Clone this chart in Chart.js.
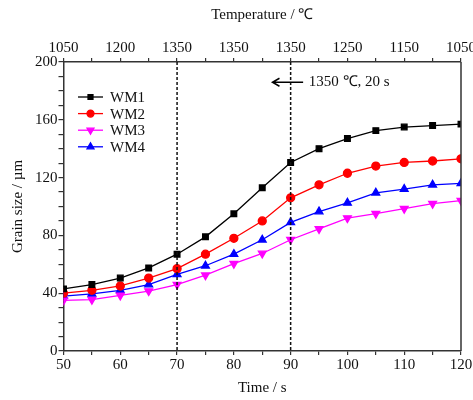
<!DOCTYPE html>
<html>
<head>
<meta charset="utf-8">
<script src="https://cdn.jsdelivr.net/npm/chart.js@4"></script>
<style>
  html, body { margin: 0; padding: 0; background: #fff; }
  #wrap { width: 473px; height: 400px; }
</style>
</head>
<body>
<div id="wrap"><canvas id="chartCanvas" width="473" height="400"></canvas></div>
<script>
const times = [50, 55, 60, 65, 70, 75, 80, 85, 90, 95, 100, 105, 110, 115, 120];
const wm1 = [43, 46, 50.5, 57.5, 67, 79, 95, 113, 130.5, 140, 147, 152.5, 155, 156, 157];
const wm2 = [40, 42, 45, 50.5, 57, 67, 78, 90, 106, 115, 123, 128, 130.5, 131.5, 133];
const wm3 = [35, 35.5, 38.5, 41.5, 46, 52.5, 60.5, 67.5, 77, 84.5, 92, 95, 98.5, 102, 104];
const wm4 = [38, 39.5, 42, 46, 53, 59, 67, 77, 89, 96.5, 102.5, 109.5, 112, 115, 116];
const tempTimes = [50, 60, 70, 80, 90, 100, 110, 120];
const tempLabels = ["1050", "1200", "1350", "1350", "1350", "1250", "1150", "1050"];
const markTimes = [70, 90];
const noteText = "1350 \u2103, 20 s";

const serif = "'Liberation Serif', 'Times New Roman', serif";
const axisColor = "#333";

function pts(arr) {
  return arr.map((v, i) => ({ x: times[i], y: v }));
}

// dashed markers, arrow note, legend and right frame line
const extras = {
  id: "extras",
  afterDatasetsDraw(chart) {
    const ctx = chart.ctx;
    const area = chart.chartArea;
    const x = chart.scales.x;
    const y = chart.scales.y;
    ctx.save();

    ctx.strokeStyle = "#111";
    ctx.lineWidth = 1.5;
    ctx.setLineDash([3, 2]);
    markTimes.forEach(t => {
      const px = x.getPixelForValue(t);
      ctx.beginPath();
      ctx.moveTo(px, area.top);
      ctx.lineTo(px, area.bottom);
      ctx.stroke();
    });
    ctx.setLineDash([]);

    ctx.strokeStyle = axisColor;
    ctx.beginPath();
    ctx.moveTo(area.right, area.top);
    ctx.lineTo(area.right, area.bottom);
    ctx.stroke();

    // arrow + note
    const ay = y.getPixelForValue(186);
    const ax1 = x.getPixelForValue(86.8);
    const ax2 = x.getPixelForValue(92.2);
    ctx.strokeStyle = "#000";
    ctx.lineWidth = 1.5;
    ctx.beginPath();
    ctx.moveTo(ax2, ay);
    ctx.lineTo(ax1, ay);
    ctx.moveTo(ax1 + 7, ay - 4);
    ctx.lineTo(ax1, ay);
    ctx.lineTo(ax1 + 7, ay + 4);
    ctx.stroke();
    ctx.fillStyle = "#111";
    ctx.font = "15px " + serif;
    ctx.textAlign = "left";
    ctx.textBaseline = "middle";
    ctx.fillText(noteText, x.getPixelForValue(93.2), ay);

    // legend
    chart.data.datasets.forEach((ds, i) => {
      const ly = 97 + i * 16.6;
      const lx1 = 78, lx2 = 103;
      ctx.strokeStyle = ds.borderColor;
      ctx.lineWidth = 1.3;
      ctx.beginPath();
      ctx.moveTo(lx1, ly);
      ctx.lineTo(lx2, ly);
      ctx.stroke();
      ctx.fillStyle = ds.pointBackgroundColor;
      ctx.strokeStyle = ds.pointBackgroundColor;
      Chart.helpers.drawPoint(ctx, {
        pointStyle: ds.pointStyle,
        radius: ds.pointRadius - 0.5,
        rotation: ds.pointRotation || 0,
        borderWidth: 1
      }, (lx1 + lx2) / 2, ly);
      ctx.fillStyle = "#111";
      ctx.font = "15px " + serif;
      ctx.textAlign = "left";
      ctx.textBaseline = "middle";
      ctx.fillText(ds.label, 110, ly + 1);
    });
    ctx.restore();
  }
};

function series(label, data, color, style, rot) {
  return {
    label,
    data: pts(data),
    borderColor: color,
    backgroundColor: color,
    pointBackgroundColor: color,
    pointBorderColor: color,
    pointStyle: style,
    pointRotation: rot || 0,
    pointRadius: style === "rect" ? 4 : (style === "circle" ? 4 : 4.5),
    borderWidth: 1.3,
    tension: 0
  };
}

const tickFont = { family: serif, size: 15 };

// let the end labels hang past the plot like in the original figure
function noSidePad(s) {
  s.paddingLeft = 0;
  s.paddingRight = 0;
}

new Chart(document.getElementById("chartCanvas"), {
  type: "line",
  data: {
    datasets: [
      series("WM1", wm1, "#000000", "rect"),
      series("WM2", wm2, "#ff0000", "circle"),
      series("WM3", wm3, "#ff00ff", "triangle", 180),
      series("WM4", wm4, "#0000ff", "triangle")
    ]
  },
  options: {
    responsive: false,
    animation: false,
    layout: { padding: { right: 12, left: 0, top: 0, bottom: 0 } },
    plugins: { legend: { display: false }, tooltip: { enabled: false } },
    scales: {
      x: {
        type: "linear",
        position: "bottom",
        min: 50, max: 120,
        afterFit: s => { s.height = 49; noSidePad(s); },
        border: { color: axisColor, width: 1.5 },
        grid: { drawOnChartArea: false, tickLength: 4, color: axisColor, lineWidth: 1.2 },
        ticks: {
          stepSize: 5, autoSkip: false, maxRotation: 0, color: "#111", font: tickFont, padding: 1,
          callback: v => (v % 10 === 0 ? v : "")
        },
        title: { display: true, text: "Time / s", color: "#111", font: tickFont, padding: { top: 2, bottom: 3 } }
      },
      x2: {
        type: "linear",
        position: "top",
        min: 50, max: 120,
        afterFit: s => { s.height = 62; noSidePad(s); },
        afterBuildTicks: s => { s.ticks = times.map(v => ({ value: v })); },
        border: { color: axisColor, width: 1.5 },
        grid: { drawOnChartArea: false, tickLength: 4, color: axisColor, lineWidth: 1.2 },
        ticks: {
          autoSkip: false, maxRotation: 0, color: "#111", font: tickFont, padding: 1,
          callback: v => {
            const i = tempTimes.indexOf(v);
            return i >= 0 ? tempLabels[i] : "";
          }
        },
        title: { display: true, text: "Temperature / \u2103", color: "#111", font: tickFont, padding: { top: 6, bottom: 4 } }
      },
      y: {
        min: 0, max: 200,
        afterFit: s => { s.width = 63.5; },
        border: { color: axisColor, width: 1.5 },
        grid: { drawOnChartArea: false, tickLength: 5, color: axisColor, lineWidth: 1.2 },
        ticks: {
          stepSize: 10, autoSkip: false, color: "#111", font: tickFont, padding: 1,
          callback: v => (v % 40 === 0 ? v : "")
        },
        title: { display: true, text: "Grain size / \u00b5m", color: "#111", font: tickFont, padding: { top: 9, bottom: 4 } }
      }
    }
  },
  plugins: [extras]
});
</script>
</body>
</html>
